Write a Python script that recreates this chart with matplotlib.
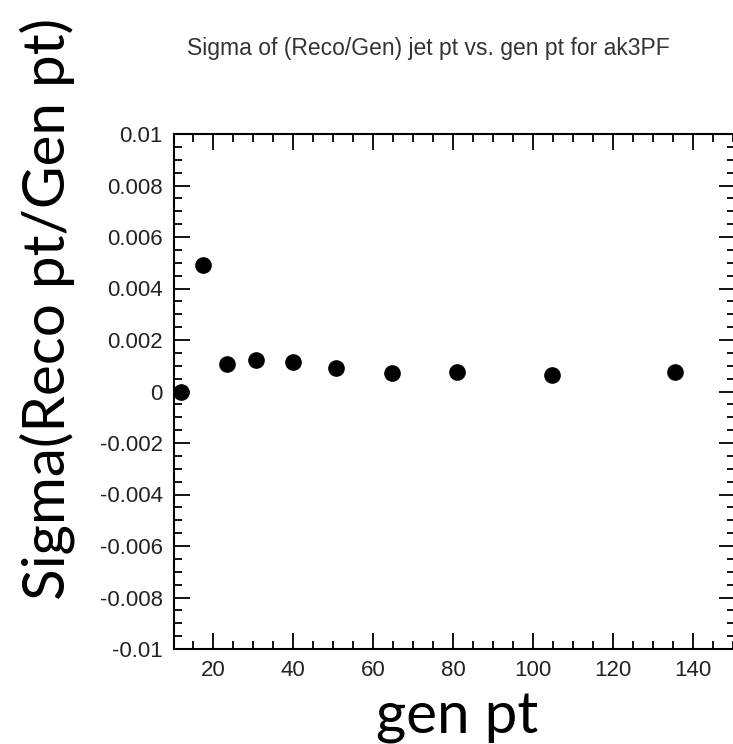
import numpy as np
import matplotlib.pyplot as plt
from matplotlib.ticker import MultipleLocator, FixedLocator, FixedFormatter

# ── DATA ──────────────────────────────────────────────────────────────────────
gen_pt = [12.0, 17.5, 23.5, 30.75, 40.0, 50.75, 64.75, 81.0, 104.75, 135.5]
sigma  = [0.0, 0.0049, 0.00105, 0.00124, 0.00113, 0.00093, 0.0007, 0.00074, 0.00066, 0.00074]

y_ticks      = [0.01, 0.008, 0.006, 0.004, 0.002, 0.0, -0.002, -0.004, -0.006, -0.008, -0.01]
y_ticklabels = ["0.01", "0.008", "0.006", "0.004", "0.002", "0",
                "-0.002", "-0.004", "-0.006", "-0.008", "-0.01"]
x_ticks      = [20, 40, 60, 80, 100, 120, 140]

title  = "Sigma of (Reco/Gen) jet pt vs. gen pt for ak3PF"
ylabel = "Sigma(Reco pt/Gen pt)"
xlabel = "gen pt"
# ─────────────────────────────────────────────────────────────────────────────

W, H = 733, 744
fig = plt.figure(figsize=(W / 100, H / 100), dpi=100)
# right spine sits just past the picture edge, as in the original crop
ax = fig.add_axes([174 / W, 1 - 649 / H, (735 - 174) / W, (649 - 134) / H])

ax.plot(gen_pt, sigma, "o", color="black", markersize=12, markeredgewidth=0)

ax.set_xlim(10.25, 150.5)
ax.set_ylim(-0.01, 0.01)

ax.yaxis.set_major_locator(FixedLocator(y_ticks))
ax.yaxis.set_major_formatter(FixedFormatter(y_ticklabels))
ax.yaxis.set_minor_locator(MultipleLocator(0.0005))
ax.xaxis.set_major_locator(FixedLocator(x_ticks))
ax.xaxis.set_minor_locator(MultipleLocator(5))

for lab in ax.get_xticklabels() + ax.get_yticklabels():
    lab.set_fontfamily(["Liberation Sans", "DejaVu Sans"])
    lab.set_fontsize(16)
    lab.set_color("#222222")

ax.tick_params(which="both", direction="in", top=True, right=True, width=1.3, color="black")
ax.tick_params(which="major", length=11.5, pad=8)
ax.tick_params(which="minor", length=5.8)
for sp in ax.spines.values():
    sp.set_linewidth(1.5)

fig.text(428 / W, 1 - 49 / H, title, ha="center", va="center",
         fontsize=16.5, color="#333333", family=["Liberation Sans", "DejaVu Sans"])

fig.text(65 / W, 1 - 309 / H, ylabel, rotation=90, rotation_mode="anchor",
         ha="center", va="baseline", fontsize=42, family=["Lato", "DejaVu Sans"])
fig.text(457 / W, 1 - 734 / H, xlabel, ha="center", va="baseline",
         fontsize=42, family=["Lato", "DejaVu Sans"])

fig.savefig("out.png", dpi=100)
